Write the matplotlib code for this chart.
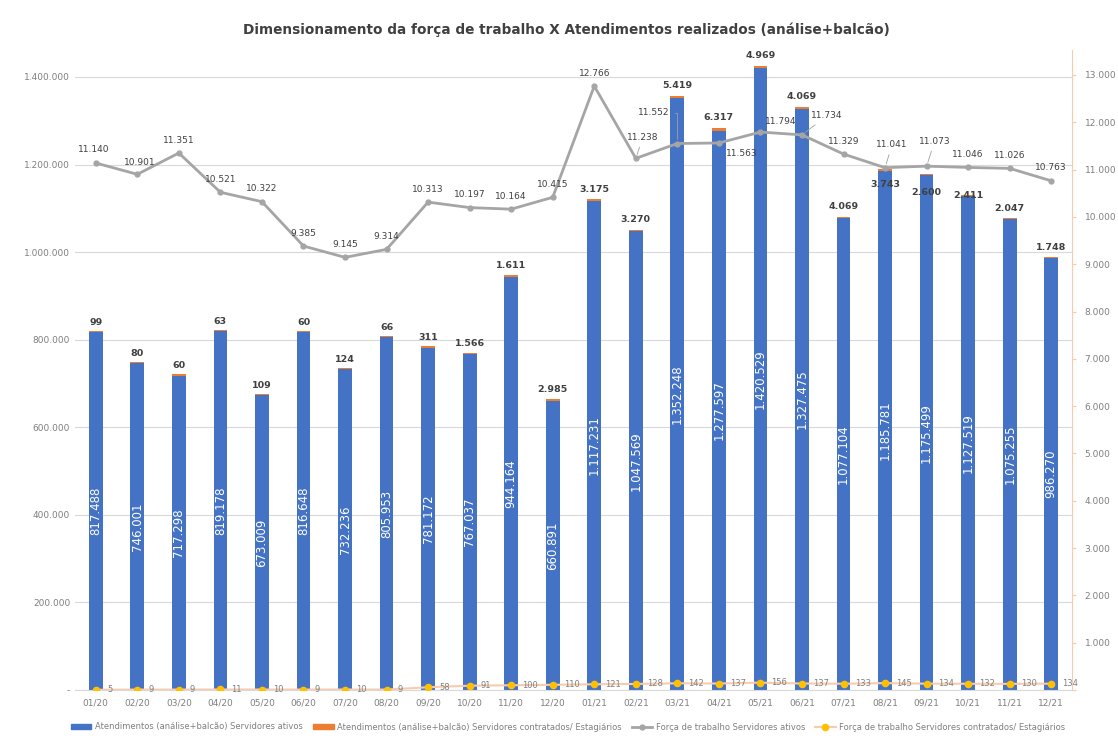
import matplotlib
matplotlib.use("Agg")
import matplotlib.pyplot as plt
from matplotlib.ticker import FuncFormatter, MultipleLocator
import numpy as np

months = ["01/20", "02/20", "03/20", "04/20", "05/20", "06/20", "07/20", "08/20", "09/20", "10/20", "11/20", "12/20",
          "01/21", "02/21", "03/21", "04/21", "05/21", "06/21", "07/21", "08/21", "09/21", "10/21", "11/21", "12/21"]
atend_ativos = [817488, 746001, 717298, 819178, 673009, 816648, 732236, 805953, 781172, 767037, 944164, 660891,
                1117231, 1047569, 1352248, 1277597, 1420529, 1327475, 1077104, 1185781, 1175499, 1127519, 1075255, 986270]
atend_contratados = [99, 80, 60, 63, 109, 60, 124, 66, 311, 1566, 1611, 2985,
                     3175, 3270, 5419, 6317, 4969, 4069, 4069, 3743, 2600, 2411, 2047, 1748]
forca_ativos = [11140, 10901, 11351, 10521, 10322, 9385, 9145, 9314, 10313, 10197, 10164, 10415,
                12766, 11238, 11552, 11563, 11794, 11734, 11329, 11041, 11073, 11046, 11026, 10763]
forca_contratados = [5, 9, 9, 11, 10, 9, 10, 9, 58, 91, 100, 110,
                     121, 128, 142, 137, 156, 137, 133, 145, 134, 132, 130, 134]

title = "Dimensionamento da força de trabalho X Atendimentos realizados (análise+balcão)"
legend_labels = ["Atendimentos (análise+balcão) Servidores ativos",
                 "Atendimentos (análise+balcão) Servidores contratados/ Estagiários",
                 "Força de trabalho Servidores ativos",
                 "Força de trabalho Servidores contratados/ Estagiários"]

BLUE = "#4472C4"
ORANGE = "#ED7D31"
GRAY = "#A5A5A5"
YELLOW = "#FFC000"
PEACH = "#F8CBAD"
TXT = "#404040"
TICK = "#7F7F7F"

plt.rcParams['font.family'] = ['DejaVu Sans']
PX = 72 / 100.0  # pixels -> points

def dotfmt(v):
    return f"{int(round(v)):,}".replace(",", ".")

fig = plt.figure(figsize=(11.18, 7.40), dpi=100)
ax = fig.add_axes([75/1118, 1-690/740, (1072-75)/1118, (690-50)/740])
ax2 = ax.twinx()

x = np.arange(len(months))
w = 0.33
ax.bar(x, atend_ativos, w, color=BLUE, zorder=2)
ax.bar(x, atend_contratados, w, bottom=atend_ativos, color=ORANGE, zorder=2)
# orange tops are very thin at this scale; draw a visible cap
ax.bar(x, [3500]*len(x), w, bottom=atend_ativos, color=ORANGE, zorder=2)

ax.set_ylim(0, 1400000*640/613)
ax.set_xlim(-0.5, len(months)-0.5)
ax.yaxis.set_major_locator(MultipleLocator(200000))
ax.yaxis.set_major_formatter(FuncFormatter(lambda v, p: "-" if v == 0 else dotfmt(v)))
ax.grid(axis='y', color="#D9D9D9", linewidth=0.8, zorder=0)
ax.set_axisbelow(True)
ax.set_xticks(x)
ax.set_xticklabels(months)
ax.tick_params(axis='both', length=0, labelsize=6.5, colors=TICK)
ax.tick_params(axis='x', pad=6)
for s in ["top", "right", "left"]:
    ax.spines[s].set_visible(False)
ax.spines["bottom"].set_color("#D9D9D9")

# blue labels inside bars
for xi, v in zip(x, atend_ativos):
    ax.text(xi, v/2, dotfmt(v), rotation=90, ha='center', va='center', color='white', fontsize=8.5)

# orange labels (pixel offsets of label centre from bar top)
orange_off = {19: (0, 15), 20: (0, 18), 21: (0, 0)}
for xi, v, c in zip(x, atend_ativos, atend_contratados):
    dx, dy = orange_off.get(xi, (0, -10))
    ax.annotate(dotfmt(c), (xi, v + c), xytext=(dx*PX, -dy*PX), textcoords='offset points',
                ha='center', va='center', color=TXT, fontsize=6.8, fontweight='bold', zorder=5)

# lines on right axis
ax2.plot(x, forca_ativos, color=GRAY, lw=2, marker='o', ms=3.5, zorder=3)
ax2.plot(x, forca_contratados, color=PEACH, lw=1.5, marker='o', ms=4.5,
         markerfacecolor=YELLOW, markeredgecolor=YELLOW, zorder=3)
ax2.set_ylim(0, 13000*640/615)
ax2.yaxis.set_major_locator(MultipleLocator(1000))
ax2.yaxis.set_major_formatter(FuncFormatter(lambda v, p: "" if v == 0 else dotfmt(v)))
ax2.tick_params(axis='y', length=3, labelsize=6.5, colors=TICK, color=PEACH, pad=6)
for s in ["top", "left", "bottom"]:
    ax2.spines[s].set_visible(False)
ax2.spines["right"].set_color(PEACH)

# gray line labels (pixel offsets of label centre from point)
gray_off = {0: (-2, -13), 1: (2, -12), 13: (7, -21), 14: (-24, -31), 15: (23, 11),
            16: (20, -11), 17: (25, -19), 19: (7, -23), 20: (8, -25)}
leader = {13: "arc3", 14: "angle,angleA=0,angleB=90,rad=0", 17: "arc3", 19: "arc3", 20: "arc3"}
for xi, v in zip(x, forca_ativos):
    dx, dy = gray_off.get(xi, (0, -13))
    kw = {}
    if xi in leader:
        kw['arrowprops'] = dict(arrowstyle='-', color="#A0A0A0", lw=0.6, shrinkA=2, shrinkB=3,
                                connectionstyle=leader[xi])
    ax2.annotate(dotfmt(v), (xi, v), xytext=(dx*PX, -dy*PX), textcoords='offset points',
                 ha='center', va='center', color=TXT, fontsize=6.5, zorder=6, **kw)

# yellow line labels
for xi, v in zip(x, forca_contratados):
    ax2.annotate(dotfmt(v), (xi, v), xytext=(8, 0), textcoords='offset points',
                 ha='left', va='center', color=TICK, fontsize=6, zorder=6)

fig.text(566/1118, 1-30/740, title, ha='center', va='center', fontsize=9.8,
         fontweight='bold', color=TXT)

handles = [plt.Rectangle((0, 0), 1, 1, color=BLUE), plt.Rectangle((0, 0), 1, 1, color=ORANGE),
           plt.Line2D([], [], color=GRAY, lw=2, marker='o', ms=3.5),
           plt.Line2D([], [], color=PEACH, lw=1.5, marker='o', ms=4.5, markerfacecolor=YELLOW, markeredgecolor=YELLOW)]
fig.legend(handles, legend_labels, loc='center', bbox_to_anchor=(568/1118, 1-727/740), ncol=4,
           frameon=False, fontsize=6, labelcolor=TICK, handlelength=2.5, columnspacing=1.2,
           handletextpad=0.4, handleheight=0.6)

fig.savefig("out.png", dpi=100)
